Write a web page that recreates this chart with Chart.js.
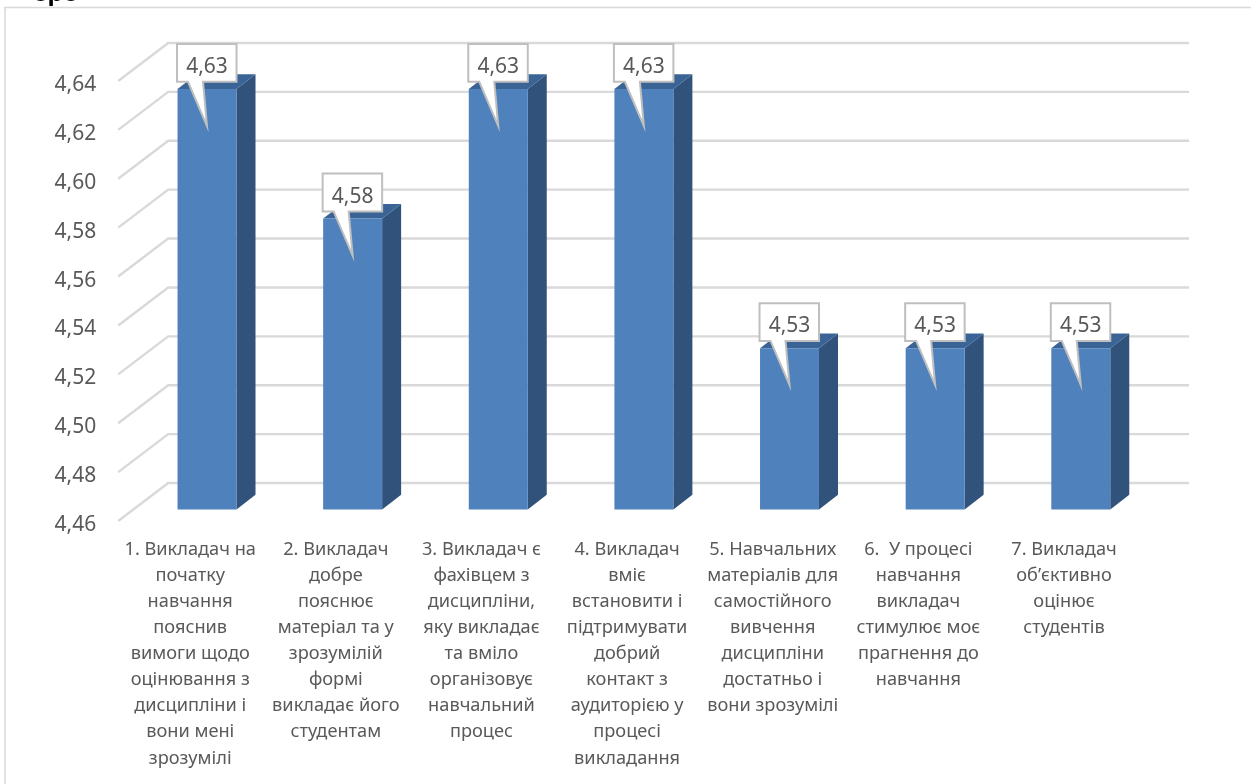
<!DOCTYPE html>
<html>
<head>
<meta charset="utf-8">
<title>chart</title>
<script src="https://cdn.jsdelivr.net/npm/chart.js@4"></script>
<style>
html, body { margin: 0; padding: 0; background: #fff; overflow: hidden; }
canvas { display: block; }
</style>
</head>
<body>
<canvas id="result" width="1251" height="784"></canvas>
<script>
var categories = [
    ['1. Викладач на', 'початку', 'навчання', 'пояснив', 'вимоги щодо', 'оцінювання з', 'дисципліни і', 'вони мені', 'зрозумілі'],
    ['2. Викладач', 'добре', 'пояснює', 'матеріал та у', 'зрозумілій', 'формі', 'викладає його', 'студентам'],
    ['3. Викладач є', 'фахівцем з', 'дисципліни,', 'яку викладає', 'та вміло', 'організовує', 'навчальний', 'процес'],
    ['4. Викладач', 'вміє', 'встановити і', 'підтримувати', 'добрий', 'контакт з', 'аудиторією у', 'процесі', 'викладання'],
    ['5. Навчальних', 'матеріалів для', 'самостійного', 'вивчення', 'дисципліни', 'достатньо і', 'вони зрозумілі'],
    ['6.  У процесі', 'навчання', 'викладач', 'стимулює моє', 'прагнення до', 'навчання'],
    ['7. Викладач', 'об’єктивно', 'оцінює', 'студентів']
];
var values = [4.632, 4.579, 4.632, 4.632, 4.526, 4.526, 4.526];
var axisMin = 4.46;
var axisMax = 4.64;
var axisStep = 0.02;

var FONT = '"Noto Sans"';
var TEXT = '#595959';

function fmt(v) {
    return Number(v).toFixed(2).replace('.', ',');
}

// frame of the pasted picture and the cut off heading above it
var framePlugin = {
    id: 'frame',
    beforeDraw: function (chart) {
        var ctx = chart.ctx;
        ctx.save();
        ctx.strokeStyle = '#d9d9d9';
        ctx.lineWidth = 1.5;
        ctx.beginPath();
        ctx.moveTo(5, 784);
        ctx.lineTo(5, 7.5);
        ctx.lineTo(1251, 7.5);
        ctx.stroke();
        ctx.fillStyle = '#000';
        ctx.font = 'bold 26px "Liberation Sans"';
        ctx.textBaseline = 'alphabetic';
        ctx.textAlign = 'left';
        ctx.fillText('ере', 33, 1);
        ctx.restore();
    }
};

// the 3d look: floor lines, wall lines, bar sides and tops
var depthPlugin = {
    id: 'depth',
    beforeDatasetsDraw: function (chart) {
        var ctx = chart.ctx;
        var yScale = chart.scales.y;
        var left = chart.chartArea.left;
        var right = chart.chartArea.right;
        var floor = chart.chartArea.bottom;
        ctx.save();
        ctx.strokeStyle = '#d9d9d9';
        ctx.lineWidth = 2.4;
        yScale.ticks.forEach(function (t) {
            var y = yScale.getPixelForValue(t.value);
            ctx.beginPath();
            ctx.moveTo(left - 16, y + 11.5);
            ctx.lineTo(left + 34, y - 26.5);
            ctx.lineTo(right + 35.5, y - 26.5);
            ctx.stroke();
        });
        chart.getDatasetMeta(0).data.forEach(function (bar) {
            var x0 = bar.x - bar.width / 2;
            var x1 = bar.x + bar.width / 2;
            ctx.fillStyle = '#31527a';
            ctx.beginPath();
            ctx.moveTo(x1, bar.y);
            ctx.lineTo(x1 + 19, bar.y - 14.7);
            ctx.lineTo(x1 + 19, floor - 14.7);
            ctx.lineTo(x1, floor);
            ctx.closePath();
            ctx.fill();
            ctx.fillStyle = '#3a6496';
            ctx.beginPath();
            ctx.moveTo(x0, bar.y);
            ctx.lineTo(x0 + 19, bar.y - 14.7);
            ctx.lineTo(x1 + 19, bar.y - 14.7);
            ctx.lineTo(x1, bar.y);
            ctx.closePath();
            ctx.fill();
        });
        ctx.restore();
    },
    afterDatasetsDraw: function (chart) {
        var ctx = chart.ctx;
        ctx.save();
        chart.getDatasetMeta(0).data.forEach(function (bar, i) {
            var x0 = bar.x - 30;
            var x1 = bar.x + 29.5;
            var top = bar.y - 45;
            var bottom = bar.y - 7.2;
            ctx.beginPath();
            ctx.moveTo(x0, top);
            ctx.lineTo(x1, top);
            ctx.lineTo(x1, bottom);
            ctx.lineTo(bar.x - 4, bottom);
            ctx.lineTo(bar.x, bar.y + 37);
            ctx.lineTo(bar.x - 19, bottom);
            ctx.lineTo(x0, bottom);
            ctx.closePath();
            ctx.fillStyle = '#fff';
            ctx.fill();
            ctx.strokeStyle = '#bfbfbf';
            ctx.lineWidth = 2;
            ctx.lineJoin = 'miter';
            ctx.stroke();
            ctx.fillStyle = TEXT;
            ctx.font = '21px ' + FONT;
            ctx.textAlign = 'center';
            ctx.textBaseline = 'middle';
            ctx.fillText(fmt(values[i]), bar.x, bar.y - 22);
        });
        ctx.restore();
    }
};

new Chart(document.getElementById('result'), {
    type: 'bar',
    data: {
        labels: categories,
        datasets: [{
            data: values,
            backgroundColor: '#4f81bd',
            categoryPercentage: 1,
            barPercentage: 0.405
        }]
    },
    plugins: [framePlugin, depthPlugin],
    options: {
        responsive: false,
        animation: false,
        layout: { padding: { left: 0, top: 69.5, right: 97.4, bottom: 0 } },
        plugins: {
            legend: { display: false },
            title: { display: false },
            tooltip: { enabled: false }
        },
        scales: {
            x: {
                grid: { display: false, drawTicks: false },
                border: { display: false },
                afterFit: function (scale) { scale.height = 274.5; },
                ticks: {
                    autoSkip: false,
                    maxRotation: 0,
                    padding: 27,
                    labelOffset: -16.8,
                    color: TEXT,
                    font: { family: FONT, size: 18.2, lineHeight: '26.1px' }
                }
            },
            y: {
                min: axisMin,
                max: axisMax,
                grid: { display: false, drawTicks: false },
                border: { display: false },
                afterFit: function (scale) { scale.width = 134.2; },
                ticks: {
                    stepSize: axisStep,
                    padding: 38,
                    labelOffset: 15.5,
                    color: TEXT,
                    font: { family: FONT, size: 21 },
                    callback: function (v) { return fmt(v); }
                }
            }
        }
    }
});
</script>
</body>
</html>
